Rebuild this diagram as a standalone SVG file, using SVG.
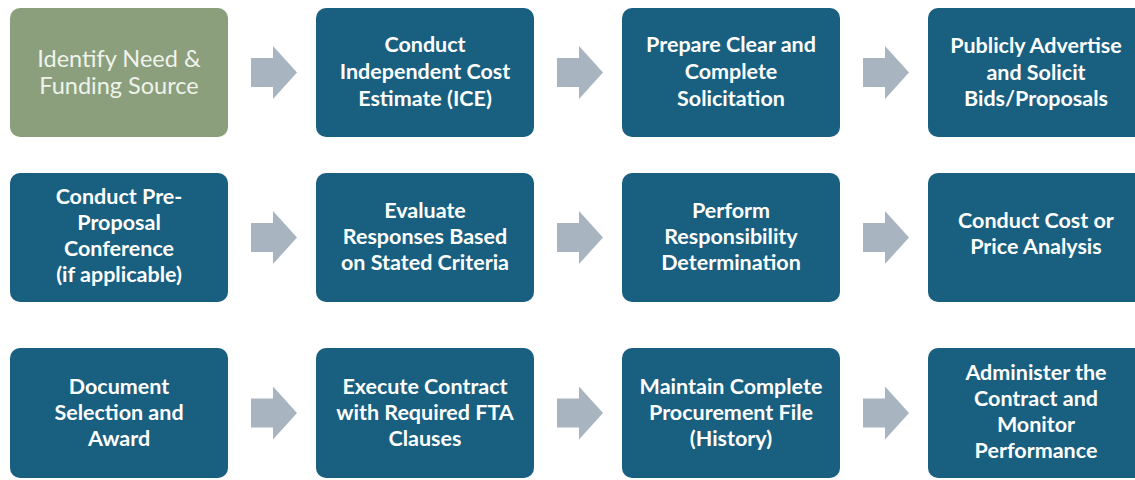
<svg xmlns="http://www.w3.org/2000/svg" width="1135" height="480" viewBox="0 0 1135 480">
<defs>
<style>
.box{fill:#185F80;}
.green{fill:#8B9F7C;}
.t{font-family:Lato,"Liberation Sans",sans-serif;font-weight:700;font-size:21.5px;fill:#FFFFFF;text-anchor:middle;}
.tg{font-family:Lato,"Liberation Sans",sans-serif;font-weight:400;font-size:23.5px;fill:#F0F3EC;text-anchor:middle;}
.arrow{fill:#A8B4C0;}
</style>
<path id="arr" d="M0,-14.5 H22 V-26.5 L46,0 L22,26.5 V14.5 H0 Z"/>
</defs>
<rect width="1135" height="480" fill="#FFFFFF"/>
<g id="connectors" class="arrow">
<use href="#arr" x="251" y="72.5"/>
<use href="#arr" x="557" y="72.5"/>
<use href="#arr" x="863" y="72.5"/>
<use href="#arr" x="251" y="237.5"/>
<use href="#arr" x="557" y="237.5"/>
<use href="#arr" x="863" y="237.5"/>
<use href="#arr" x="251" y="413"/>
<use href="#arr" x="557" y="413"/>
<use href="#arr" x="863" y="413"/>
</g>
<g id="n1"><rect class="green" x="10" y="8" width="218" height="129" rx="10"/>
<text class="tg" x="119"><tspan x="119" y="67">Identify Need &amp;</tspan><tspan x="119" y="94">Funding Source</tspan></text></g>
<g id="n2"><rect class="box" x="316" y="8" width="218" height="129" rx="10"/>
<text class="t"><tspan x="425" y="52">Conduct</tspan><tspan x="425" y="79">Independent Cost</tspan><tspan x="425" y="106">Estimate (ICE)</tspan></text></g>
<g id="n3"><rect class="box" x="622" y="8" width="218" height="129" rx="10"/>
<text class="t"><tspan x="731" y="52">Prepare Clear and</tspan><tspan x="731" y="79">Complete</tspan><tspan x="731" y="106">Solicitation</tspan></text></g>
<g id="n4"><rect class="box" x="928" y="8" width="218" height="129" rx="10"/>
<text class="t"><tspan x="1036" y="53">Publicly Advertise</tspan><tspan x="1036" y="80">and Solicit</tspan><tspan x="1036" y="106">Bids/Proposals</tspan></text></g>
<g id="n5"><rect class="box" x="10" y="173" width="218" height="129" rx="10"/>
<text class="t"><tspan x="119" y="204">Conduct Pre-</tspan><tspan x="119" y="230">Proposal</tspan><tspan x="119" y="256">Conference</tspan><tspan x="119" y="282">(if applicable)</tspan></text></g>
<g id="n6"><rect class="box" x="316" y="173" width="218" height="129" rx="10"/>
<text class="t"><tspan x="425" y="218">Evaluate</tspan><tspan x="425" y="244">Responses Based</tspan><tspan x="425" y="270">on Stated Criteria</tspan></text></g>
<g id="n7"><rect class="box" x="622" y="173" width="218" height="129" rx="10"/>
<text class="t"><tspan x="731" y="218">Perform</tspan><tspan x="731" y="244">Responsibility</tspan><tspan x="731" y="270">Determination</tspan></text></g>
<g id="n8"><rect class="box" x="928" y="173" width="218" height="129" rx="10"/>
<text class="t"><tspan x="1036" y="228">Conduct Cost or</tspan><tspan x="1036" y="254">Price Analysis</tspan></text></g>
<g id="n9"><rect class="box" x="10" y="348" width="218" height="130" rx="10"/>
<text class="t"><tspan x="119" y="394">Document</tspan><tspan x="119" y="420">Selection and</tspan><tspan x="119" y="446">Award</tspan></text></g>
<g id="n10"><rect class="box" x="316" y="348" width="218" height="130" rx="10"/>
<text class="t"><tspan x="425" y="394">Execute Contract</tspan><tspan x="425" y="420">with Required FTA</tspan><tspan x="425" y="446">Clauses</tspan></text></g>
<g id="n11"><rect class="box" x="622" y="348" width="218" height="130" rx="10"/>
<text class="t"><tspan x="731" y="394">Maintain Complete</tspan><tspan x="731" y="420">Procurement File</tspan><tspan x="731" y="446">(History)</tspan></text></g>
<g id="n12"><rect class="box" x="928" y="348" width="218" height="130" rx="10"/>
<text class="t"><tspan x="1036" y="380">Administer the</tspan><tspan x="1036" y="406">Contract and</tspan><tspan x="1036" y="432">Monitor</tspan><tspan x="1036" y="458">Performance</tspan></text></g>
</svg>
